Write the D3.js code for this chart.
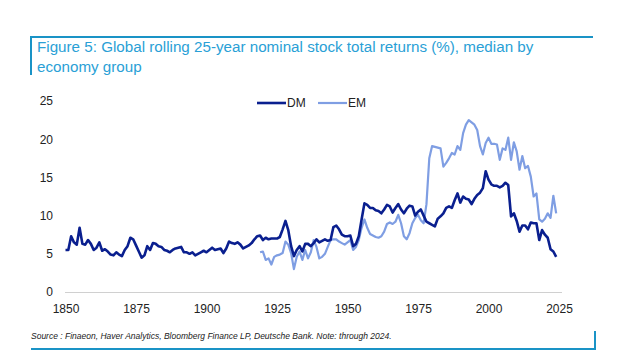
<!DOCTYPE html>
<html>
<head>
<meta charset="utf-8">
<script src="https://cdn.jsdelivr.net/npm/d3@7"></script>
<style>
  body { margin: 0; background: #fff; }
  svg { font-family: "Liberation Sans", Arial, sans-serif; }
</style>
</head>
<body>
<svg id="chart" width="639" height="360"></svg>
<script>
const startDM = 1850;
const dmValues = [
  5.5, 5.5, 7.3, 6.5, 6.2, 8.4, 6.3, 6.2, 6.8, 6.3,
  5.5, 5.8, 6.5, 5.4, 5.6, 5.3, 4.9, 4.8, 5.2, 4.9,
  4.7, 5.5, 6.0, 7.1, 6.9, 6.1, 5.3, 4.5, 4.8, 6.0,
  5.5, 6.4, 6.3, 6.0, 5.9, 5.5, 5.4, 5.2, 5.5, 5.7,
  5.8, 5.9, 5.2, 5.2, 5.0, 5.2, 4.8, 5.0, 5.2, 5.4,
  5.2, 5.5, 5.8, 5.5, 5.6, 5.7, 5.1, 5.7, 6.6, 6.4,
  6.3, 6.5, 6.2, 5.7, 5.9, 6.1, 6.4, 6.9, 7.3, 7.4,
  6.8, 7.1, 6.9, 7.0, 7.0, 7.0, 7.2, 8.2, 9.3, 8.1,
  6.0, 4.7, 5.5, 6.0, 5.3, 6.3, 6.3, 6.0, 6.4, 6.9,
  6.5, 6.7, 6.9, 6.7, 6.8, 8.5, 8.7, 8.2, 7.5, 7.3,
  7.3, 7.4, 6.0, 6.3, 7.3, 9.5, 11.6, 11.4, 11.0, 11.0,
  10.7, 10.6, 10.3, 10.8, 11.4, 11.2, 10.4, 11.0, 11.5, 10.8,
  10.3, 10.9, 11.3, 11.2, 10.0, 10.5, 10.8, 10.0, 9.2, 9.0,
  8.8, 8.6, 9.6, 9.9, 10.3, 11.0, 11.2, 11.0, 12.0, 12.9,
  11.7, 12.5, 12.2, 12.1, 11.5, 12.2, 12.7, 13.0, 13.6, 15.8,
  14.7, 14.1, 13.9, 13.9, 13.7, 13.9, 14.3, 14.0, 9.9, 10.3,
  9.3, 7.9, 8.7, 8.7, 8.2, 9.1, 9.0, 9.0, 6.8, 8.1,
  7.5, 7.1, 5.6, 5.3, 4.6
];

const startEM = 1919;
const emValues = [
  5.2, 5.3, 4.2, 4.4, 3.6, 4.6, 4.8, 4.9, 5.1, 6.6,
  6.2, 5.1, 3.0, 4.6, 5.3, 4.2, 5.5, 4.4, 5.2, 6.8,
  5.9, 4.4, 4.6, 5.0, 5.9, 6.8, 6.9, 6.9, 6.6, 6.4,
  6.2, 6.5, 6.8, 5.5, 5.9, 6.8, 8.4, 9.5, 8.4, 7.6,
  7.4, 7.2, 7.1, 7.3, 7.9, 8.9, 9.1, 8.9, 9.2, 10.1,
  9.0, 7.3, 6.9, 7.7, 9.0, 9.7, 10.1, 9.4, 9.0, 11.5,
  17.5, 19.1, 19.0, 18.9, 18.8, 16.4, 16.9, 17.5, 18.2, 18.0,
  19.1, 18.6, 20.8, 21.9, 22.5, 22.2, 21.9, 21.2, 19.1, 18.0,
  19.5, 20.2, 19.4, 19.4, 19.3, 17.3, 18.8, 18.6, 20.2, 17.3,
  19.6, 18.4, 16.0, 17.8, 16.2, 16.5, 15.1, 12.5, 12.9, 9.5,
  9.2, 9.6, 10.3, 9.7, 12.6, 10.3
];

const xTicks = [1850, 1875, 1900, 1925, 1950, 1975, 2000, 2025];
const yTicks = [0, 5, 10, 15, 20, 25];
const seriesNames = ['DM', 'EM'];
const seriesColors = ['#0a1f8f', '#7f9ee3'];

const titleLines = [
  'Figure 5: Global rolling 25-year nominal stock total returns (%), median by',
  'economy group'
];
const sourceText = 'Source : Finaeon, Haver Analytics, Bloomberg Finance LP, Deutsche Bank. Note: through 2024.';

const toPoints = (start, vals) => vals.map((v, i) => ({ year: start + i, value: v }));
const series = [
  { name: seriesNames[0], color: seriesColors[0], width: 2.6, data: toPoints(startDM, dmValues) },
  { name: seriesNames[1], color: seriesColors[1], width: 2.2, data: toPoints(startEM, emValues) }
];

const svg = d3.select('#chart');
const frame = '#1a93c6';

// frame lines
svg.append('path')
  .attr('d', 'M31,75 V37 H593')
  .attr('fill', 'none')
  .attr('stroke', frame)
  .attr('stroke-width', 2);
svg.append('path')
  .attr('d', 'M31,349 H595 V331')
  .attr('fill', 'none')
  .attr('stroke', frame)
  .attr('stroke-width', 2);

svg.append('text')
  .attr('x', 37)
  .attr('y', 52)
  .attr('fill', '#2a9fd6')
  .attr('font-size', 15.2)
  .selectAll('tspan')
  .data(titleLines)
  .join('tspan')
  .attr('x', 37)
  .attr('dy', (d, i) => i === 0 ? 0 : 20)
  .text(d => d);

const x = d3.scaleLinear()
  .domain([1850, 2025])
  .range([65.5, 559]);

const y = d3.scaleLinear()
  .domain([0, 25])
  .range([292, 101]);

const xAxis = svg.append('g')
  .attr('transform', 'translate(0,292)')
  .call(d3.axisBottom(x).tickValues(xTicks).tickFormat(d3.format('d')).tickSize(0).tickPadding(12));
xAxis.select('.domain')
  .attr('d', 'M65,0.5H562')
  .attr('stroke', '#d0d0d0');
xAxis.selectAll('text')
  .attr('font-size', 12)
  .attr('fill', '#222');

const yAxis = svg.append('g')
  .attr('transform', 'translate(65,0)')
  .call(d3.axisLeft(y).tickValues(yTicks).tickSize(0).tickPadding(12));
yAxis.select('.domain').remove();
yAxis.selectAll('text')
  .attr('font-size', 12)
  .attr('fill', '#222');

const line = d3.line()
  .x(d => x(d.year))
  .y(d => y(d.value));

svg.append('g')
  .selectAll('path')
  .data(series.slice().reverse())
  .join('path')
  .attr('fill', 'none')
  .attr('stroke', d => d.color)
  .attr('stroke-width', d => d.width)
  .attr('stroke-linejoin', 'round')
  .attr('d', d => line(d.data));

// legend
const legend = svg.append('g')
  .attr('transform', 'translate(257,103)');
const item = legend.selectAll('g')
  .data(series)
  .join('g')
  .attr('transform', (d, i) => `translate(${i * 61},0)`);
item.append('line')
  .attr('x1', 0)
  .attr('x2', 29)
  .attr('stroke', d => d.color)
  .attr('stroke-width', d => d.width);
item.append('text')
  .attr('x', 30)
  .attr('dy', '0.35em')
  .attr('font-size', 12)
  .attr('fill', '#222')
  .text(d => d.name);

svg.append('text')
  .attr('x', 31)
  .attr('y', 339)
  .attr('font-size', 8.5)
  .attr('font-style', 'italic')
  .attr('fill', '#222')
  .text(sourceText);
</script>
</body>
</html>
